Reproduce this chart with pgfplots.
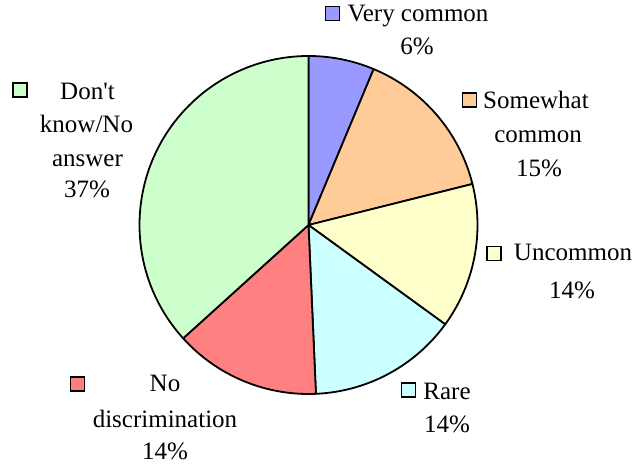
\documentclass[border=0pt]{standalone}
\usepackage{pgfplots}
\usepackage{pgfplotstable}
\pgfplotsset{compat=1.18}
\usepackage{fontspec}
\setmainfont{Liberation Serif}
\definecolor{cVC}{HTML}{9999FF}
\definecolor{cSC}{HTML}{FFCC99}
\definecolor{cUN}{HTML}{FFFFCC}
\definecolor{cRA}{HTML}{CCFFFF}
\definecolor{cND}{HTML}{FF8080}
\definecolor{cDK}{HTML}{CCFFCC}
% share of answers (percent), clockwise from 12 o'clock
\pgfplotstableread{
idx value color
0 6.3  cVC
1 14.8 cSC
2 13.9 cUN
3 14.3 cRA
4 14.0 cND
5 36.7 cDK
}\piedata
\tikzset{
  lbl/.style={anchor=base, inner sep=0pt, font=\fontsize{25}{30}\selectfont},
  keybox/.style={draw=black, line width=1.6pt, minimum size=14pt, inner sep=0pt}}
\begin{document}
\begin{tikzpicture}
\begin{axis}[scale only axis, width=637pt, height=465pt,
  xmin=0, xmax=637, ymin=0, ymax=465,
  axis lines=none, ticks=none, clip=false]
\path[draw=none] (rel axis cs:0,0) rectangle (rel axis cs:1,1);
\pgfplotsextra{
  \def\cum{0}
  \pgfplotsforeachungrouped \i in {0,...,5}{
    \pgfplotstablegetelem{\i}{value}\of\piedata \let\val\pgfplotsretval
    \pgfplotstablegetelem{\i}{color}\of\piedata \let\col\pgfplotsretval
    \pgfmathsetmacro\a{90-3.6*\cum}
    \pgfmathsetmacro\b{90-3.6*(\cum+\val)}
    \filldraw[fill=\col, draw=black, line width=1.8pt, line join=round]
      (axis cs:308.5,240) -- ++(\a:169pt) arc[start angle=\a, end angle=\b, radius=169pt] -- cycle;
    \pgfmathsetmacro\cum{\cum+\val}
  }
}
% keys
\node[keybox, fill=cVC] at (axis cs:332.5,451.5) {};
\node[keybox, fill=cSC] at (axis cs:469.5,365) {};
\node[keybox, fill=cUN] at (axis cs:494,211.5) {};
\node[keybox, fill=cRA] at (axis cs:408.5,75) {};
\node[keybox, fill=cND] at (axis cs:77.5,81) {};
\node[keybox, fill=cDK] at (axis cs:20,375) {};
% labels
\node[lbl] at (axis cs:418,443) {Very common};
\node[lbl] at (axis cs:417,410) {6\%};
\node[lbl] at (axis cs:536,356) {Somewhat};
\node[lbl] at (axis cs:538,322) {common};
\node[lbl] at (axis cs:539,288) {15\%};
\node[lbl] at (axis cs:573,204) {Uncommon};
\node[lbl] at (axis cs:572,166) {14\%};
\node[lbl] at (axis cs:447,65) {Rare};
\node[lbl] at (axis cs:447,32) {14\%};
\node[lbl] at (axis cs:165,73) {No};
\node[lbl] at (axis cs:165,37) {discrimination};
\node[lbl] at (axis cs:165,5) {14\%};
\node[lbl] at (axis cs:87.5,365) {Don{\addfontfeatures{Ligatures=TeXOff}'}t};
\node[lbl] at (axis cs:86.5,332) {know/No};
\node[lbl] at (axis cs:87.5,298) {answer};
\node[lbl] at (axis cs:87,267) {37\%};
\end{axis}
\end{tikzpicture}
\end{document}
